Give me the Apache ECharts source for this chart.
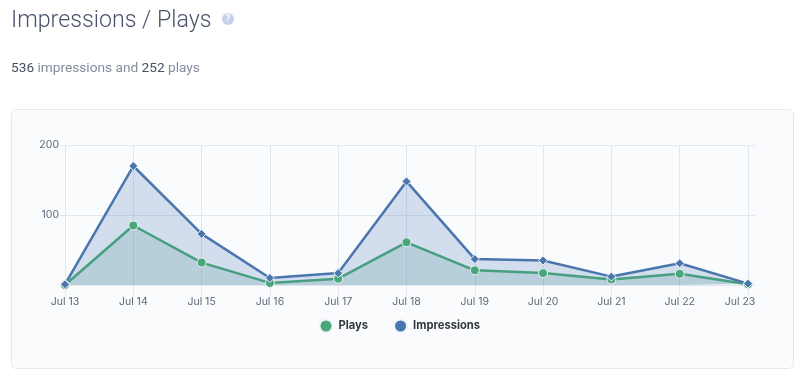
<!DOCTYPE html>
<html>
<head>
<meta charset="utf-8">
<style>
html,body{margin:0;padding:0;background:#fff;}
#main{width:804px;height:378px;}
</style>
<script src="https://cdn.jsdelivr.net/npm/echarts@6/dist/echarts.min.js"></script>
</head>
<body>
<div id="main"></div>
<script>
var days = ['Jul 13','Jul 14','Jul 15','Jul 16','Jul 17','Jul 18','Jul 19','Jul 20','Jul 21','Jul 22','Jul 23'];
var plays = [0,85,32,3,9,61,21,17,8,16,1];
var impressions = [1,170,73,10,17,148,37,35,12,31,2];
var yTicks = [0,100,200];

var FONT = 'Inter, Roboto, sans-serif';
var lineColor = '#e3e6ee';
var myChart = echarts.init(document.getElementById('main'));

var option = {
	animation: false,
	backgroundColor: '#ffffff',
	textStyle: {fontFamily: FONT},
	graphic: [
		// chart panel
		{type:'rect', z:-1, shape:{x:11.5,y:109.5,width:782,height:259,r:5},
			style:{fill:'#fafbfd',stroke:'#e6e8ee',lineWidth:1}},
		{type:'text', left:11, top:10, style:{text:'Impressions / Plays',fontFamily:'Roboto',fontWeight:300,fontSize:23.2,fill:'#49536a'}},
		{type:'circle', shape:{cx:228,cy:19,r:6}, style:{fill:'#c5d3ea'}},
		{type:'text', left:225.5, top:14, style:{text:'?',fontFamily:FONT,fontWeight:700,fontSize:9,fill:'#ffffff'}},
		{type:'text', left:11, top:62, style:{
			text:'{n|536} {t|impressions and} {n|252} {t|plays}',
			rich:{
				n:{fontFamily:'Roboto',fontSize:13.7,fill:'#454f62'},
				t:{fontFamily:'Roboto',fontSize:13.7,fill:'#848b9c'}
			}
		}}
	],
	legend: {
		data: ['Plays','Impressions'],
		top: 313.5,
		left: 313.5,
		icon: 'circle',
		itemWidth: 13,
		itemHeight: 13,
		itemGap: 25,
		textStyle: {fontFamily:FONT,fontWeight:700,fontSize:11.2,color:'#33383f',padding:[0,0,0,1]}
	},
	grid: {left:65,right:56,top:145,height:140},
	xAxis: {
		type: 'category',
		boundaryGap: false,
		data: days,
		axisLine: {show:false},
		axisTick: {show:true,length:10,lineStyle:{color:lineColor}},
		axisLabel: {
			interval: 0,
			margin: 11,
			fontFamily: FONT,
			fontSize: 10.5,
			color: '#5f6779',
			formatter: function(v,i){
				return i==days.length-1 ? '{last|'+v+'}' : v;
			},
			rich: {last:{padding:[0,16,0,0],fontFamily:FONT,fontSize:10.5,color:'#5f6779'}}
		},
		splitLine: {show:true,lineStyle:{color:lineColor}}
	},
	yAxis: [
		{
			type: 'value',
			min: yTicks[0],
			max: yTicks[2],
			interval: 100,
			axisLine: {show:false},
			axisTick: {show:true,length:5,lineStyle:{color:lineColor}},
			axisLabel: {
				margin: 6,
				fontFamily: FONT,
				fontSize: 10.5,
				color: '#5f6779',
				formatter: function(v){ return v==0 ? '' : v; }
			},
			splitLine: {show:true,lineStyle:{color:lineColor}}
		},
		{
			// only here to run the grid lines past the last day
			type: 'value',
			position: 'right',
			min: yTicks[0],
			max: yTicks[2],
			interval: 100,
			axisLine: {show:false},
			axisTick: {show:true,length:7,lineStyle:{color:lineColor}},
			axisLabel: {show:false},
			splitLine: {show:false}
		}
	],
	series: [
		{
			name: 'Plays',
			type: 'line',
			data: plays,
			symbol: 'circle',
			symbolSize: 9,
			showAllSymbol: true,
			itemStyle: {color:'#48a87b',borderColor:'#f0f3f7',borderWidth:1},
			lineStyle: {color:'#489e80',width:2.5},
			areaStyle: {color:'#4aa386',opacity:0.2}
		},
		{
			name: 'Impressions',
			type: 'line',
			data: impressions,
			symbol: 'diamond',
			symbolSize: 9,
			showAllSymbol: true,
			itemStyle: {color:'#4a76ae',borderColor:'#f0f3f7',borderWidth:1},
			lineStyle: {color:'#4a76ae',width:2.5},
			areaStyle: {color:'#4470b4',opacity:0.22}
		}
	]
};
myChart.setOption(option);
</script>
</body>
</html>
